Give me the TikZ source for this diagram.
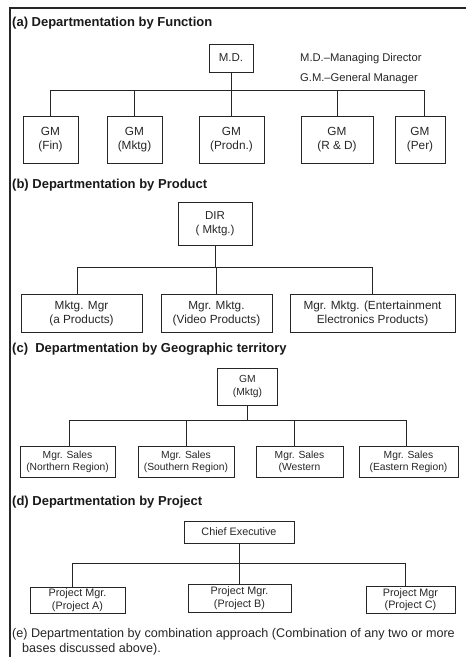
\documentclass[tikz,border=0pt]{standalone}
\usepackage{fontspec}
\setmainfont{Liberation Sans}
\begin{document}
\begin{tikzpicture}[x=1pt,y=-1pt,
  ink/.style={draw=black!85,line width=1pt},
  orgbox/.style={ink,rectangle,inner sep=0pt,align=center,text=black!85},
  heading/.style={anchor=west,inner sep=0pt,text=black!90,font=\fontsize{13}{15}\selectfont\bfseries},
  note/.style={anchor=west,inner sep=0pt,text=black!85,font=\fontsize{11.2}{13}\selectfont},
  link/.style={ink}
]
\useasboundingbox (0,0) rectangle (466,657);
% page frame
\draw[line width=1.3pt,black!85] (10,657) -- (10,8) -- (466,8);

% ---------- (a) function ----------
\node[heading] (ta) at (12,23) {(a) Departmentation by Function};
\tikzset{abox/.style={orgbox,minimum height=47pt,font=\fontsize{11.8}{14.5}\selectfont}}
\node[orgbox,minimum width=44pt,minimum height=28pt,font=\fontsize{11.5}{14}\selectfont] (md) at (231,58) {M.D.};
\node[note] (n1) at (300,59) {M.D.–Managing Director};
\node[note] (n2) at (300,79) {G.M.–General Manager};
\node[abox,minimum width=55pt] (fin) at (50.5,139.5) {GM\\(Fin)};
\node[abox,minimum width=55pt] (mkt) at (134.5,139.5) {GM\\(Mktg)};
\node[abox,minimum width=65pt] (prd) at (231.5,139.5) {GM\\(Prodn.)};
\node[abox,minimum width=72pt] (rnd) at (337,139.5) {GM\\(R \& D)};
\node[abox,minimum width=50pt] (per) at (420,139.5) {GM\\(Per)};
\coordinate (busa) at (0,90);
\coordinate (pera) at ([xshift=4pt]per.north);
\draw[link] (fin.north |- busa) -- (pera |- busa);
\draw[link] (md.south) -- (md.south |- busa);
\foreach \c in {fin,mkt,prd,rnd} \draw[link] (\c.north) -- (\c.north |- busa);
\draw[link] (pera) -- (pera |- busa);

% ---------- (b) product ----------
\node[heading] (tb) at (12,185) {(b) Departmentation by Product};
\tikzset{bbox/.style={orgbox,minimum height=38pt,font=\fontsize{11.8}{14}\selectfont}}
\node[orgbox,minimum width=74pt,minimum height=43pt,font=\fontsize{11.5}{14}\selectfont] (dir) at (215,223.5) {DIR\\( Mktg.)};
\node[bbox,minimum width=121pt] (pa) at (81.5,313) {Mktg. Mgr\\(a Products)};
\node[bbox,minimum width=111pt] (pv) at (216.5,313) {Mgr. Mktg.\\(Video Products)};
\node[bbox,minimum width=165pt] (pe) at (372.5,313) {Mgr. Mktg. (Entertainment\\Electronics Products)};
\coordinate (busb) at (0,267);
\coordinate (pab) at ([xshift=-4.5pt]pa.north);
\draw[link] (pab |- busb) -- (pe.north |- busb);
\draw[link] (dir.south) -- (dir.south |- busb);
\draw[link] (pab) -- (pab |- busb);
\foreach \c in {pv,pe} \draw[link] (\c.north) -- (\c.north |- busb);

% ---------- (c) geographic territory ----------
\node[heading] (tc) at (12,349) {(c)\ \ Departmentation by Geographic territory};
\tikzset{cbox/.style={orgbox,minimum height=31pt,font=\fontsize{10.3}{12}\selectfont}}
\node[orgbox,minimum width=60pt,minimum height=37pt,font=\fontsize{10.3}{12.5}\selectfont] (gm) at (247.5,386.5) {GM\\(Mktg)};
\node[cbox,minimum width=95pt] (rn) at (67.5,461.5) {Mgr. Sales\\(Northern Region)};
\node[cbox,minimum width=96pt] (rs) at (186,461.5) {Mgr. Sales\\(Southern Region)};
\node[cbox,minimum width=87pt] (rw) at (299.5,461.5) {Mgr. Sales\\(Western};
\node[cbox,minimum width=99pt] (re) at (408.5,461.5) {Mgr. Sales\\(Eastern Region)};
\coordinate (busc) at (0,420);
\coordinate (rnc) at ([xshift=1.5pt]rn.north);
\coordinate (rwc) at ([xshift=-5.5pt]rw.north);
\coordinate (rec) at ([xshift=-2.5pt]re.north);
\draw[link] (rnc |- busc) -- (rec |- busc);
\draw[link] (gm.south) -- (gm.south |- busc);
\foreach \c in {rnc,rwc,rec} \draw[link] (\c) -- (\c |- busc);
\draw[link] (rs.north) -- (rs.north |- busc);

% ---------- (d) project ----------
\node[heading] (td) at (12,502) {(d) Departmentation by Project};
\tikzset{dbox/.style={orgbox,font=\fontsize{10.8}{12.5}\selectfont}}
\node[dbox,minimum width=110pt,minimum height=22pt] (ce) at (239,532) {Chief Executive};
\node[dbox,minimum width=95pt,minimum height=26pt] (pja) at (77.5,600) {Project Mgr.\\(Project A)};
\node[dbox,minimum width=103pt,minimum height=28pt] (pjb) at (239.5,598) {Project Mgr.\\(Project B)};
\node[dbox,minimum width=89pt,minimum height=27pt] (pjc) at (410.5,599.5) {Project Mgr\\(Project C)};
\coordinate (busd) at (0,563);
\coordinate (pjad) at ([xshift=-5.5pt]pja.north);
\coordinate (pjcd) at ([xshift=-5.5pt]pjc.north);
\draw[link] (pjad |- busd) -- (pjcd |- busd);
\draw[link] (ce.south) -- (ce.south |- busd);
\draw[link] (pjad) -- (pjad |- busd);
\draw[link] (pjb.north) -- (pjb.north |- busd);
\draw[link] (pjcd) -- (pjcd |- busd);

% ---------- (e) combination ----------
\node[note,font=\fontsize{12.6}{15}\selectfont] (te1) at (12,634) {(e) Departmentation by combination approach (Combination of any two or more};
\node[note,font=\fontsize{12.6}{15}\selectfont] (te2) at (22,649) {bases discussed above).};
\end{tikzpicture}
\end{document}
